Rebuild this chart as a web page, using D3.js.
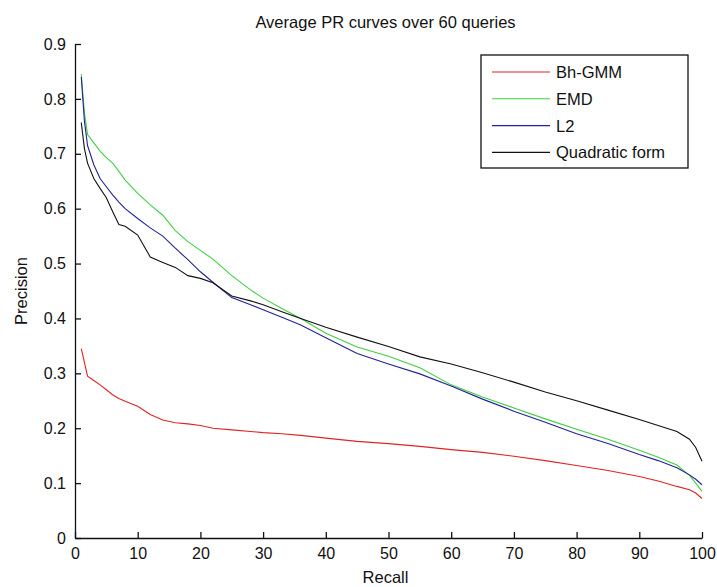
<!DOCTYPE html>
<html>
<head>
<meta charset="utf-8">
<script src="https://cdn.jsdelivr.net/npm/d3@7"></script>
<style>
  html, body { margin: 0; padding: 0; background: #fff; }
  svg { display: block; font-family: "Liberation Sans", Arial, Helvetica, sans-serif; }
</style>
</head>
<body>
<script>
// ---- data ----
const recall = [1, 1.5, 2, 3, 4, 5, 6, 7, 8, 10, 12, 14, 16, 18, 20, 22, 25, 28, 30, 33, 36, 40, 45, 50, 55, 60, 65, 70, 75, 80, 85, 90, 93, 96, 98, 99, 100];
const bhGmm = [0.345, 0.32, 0.295, 0.287, 0.279, 0.27, 0.261, 0.254, 0.249, 0.24, 0.225, 0.215, 0.21, 0.208, 0.205, 0.2, 0.197, 0.194, 0.192, 0.19, 0.187, 0.182, 0.176, 0.172, 0.167, 0.161, 0.156, 0.149, 0.141, 0.132, 0.123, 0.112, 0.104, 0.094, 0.088, 0.082, 0.072];
const emd = [0.845, 0.775, 0.735, 0.72, 0.705, 0.693, 0.683, 0.668, 0.652, 0.628, 0.607, 0.588, 0.56, 0.54, 0.524, 0.508, 0.478, 0.452, 0.437, 0.418, 0.4, 0.373, 0.348, 0.331, 0.31, 0.279, 0.257, 0.237, 0.217, 0.198, 0.18, 0.16, 0.147, 0.133, 0.114, 0.1, 0.085];
const l2 = [0.84, 0.76, 0.715, 0.68, 0.655, 0.64, 0.625, 0.612, 0.6, 0.582, 0.565, 0.55, 0.528, 0.507, 0.485, 0.466, 0.438, 0.425, 0.416, 0.402, 0.388, 0.365, 0.336, 0.317, 0.299, 0.277, 0.253, 0.231, 0.211, 0.19, 0.172, 0.152, 0.141, 0.128, 0.115, 0.107, 0.097];
const quadForm = [0.757, 0.71, 0.683, 0.655, 0.637, 0.62, 0.595, 0.571, 0.568, 0.552, 0.512, 0.502, 0.493, 0.478, 0.473, 0.465, 0.441, 0.432, 0.425, 0.412, 0.4, 0.384, 0.366, 0.349, 0.33, 0.317, 0.301, 0.284, 0.266, 0.25, 0.233, 0.216, 0.205, 0.194, 0.18, 0.165, 0.14];
const seriesNames = ["Bh-GMM", "EMD", "L2", "Quadratic form"];
const seriesColors = ["#e02424", "#3fd03f", "#22229a", "#111111"];
const xTicks = [0, 10, 20, 30, 40, 50, 60, 70, 80, 90, 100];
const yTicks = [0, 0.1, 0.2, 0.3, 0.4, 0.5, 0.6, 0.7, 0.8, 0.9];
const titleText = "Average PR curves over 60 queries";
const xLabel = "Recall";
const yLabel = "Precision";

// ---- layout ----
const W = 717, H = 587;
const m = { left: 75, right: 15, top: 44, bottom: 49 };
const svg = d3.select("body").append("svg").attr("width", W).attr("height", H);
svg.append("rect").attr("width", W).attr("height", H).attr("fill", "#fff");

const x = d3.scaleLinear().domain([0, 100]).range([m.left, W - m.right]);
const y = d3.scaleLinear().domain([0, 0.9]).range([H - m.bottom, m.top]);

const fmtY = d => d === 0 ? "0" : d3.format(".1f")(d);

// x axis (ticks inward)
const xAxis = svg.append("g").attr("transform", `translate(0,${H - m.bottom})`)
  .call(d3.axisBottom(x).tickValues(xTicks).tickSizeInner(-6).tickSizeOuter(0).tickPadding(10).tickFormat(d3.format("d")));
xAxis.selectAll("text").attr("font-size", 16).attr("fill", "#111");

// y axis
const yAxis = svg.append("g").attr("transform", `translate(${m.left},0)`)
  .call(d3.axisLeft(y).tickValues(yTicks).tickSizeInner(-6).tickSizeOuter(0).tickPadding(9).tickFormat(fmtY));
yAxis.selectAll("text").attr("font-size", 16).attr("fill", "#111");

svg.selectAll(".domain, .tick line").attr("stroke", "#111").attr("stroke-width", 1.3);

// lines
const allSeries = [bhGmm, emd, l2, quadForm];
const line = d3.line().x((d, i) => x(recall[i])).y(d => y(d));
allSeries.forEach((vals, k) => {
  svg.append("path").datum(vals)
    .attr("fill", "none")
    .attr("stroke", seriesColors[k])
    .attr("stroke-width", 1.1)
    .attr("d", line);
});

// title & labels
svg.append("text").attr("x", (m.left + W - m.right) / 2 - 3).attr("y", 28)
  .attr("text-anchor", "middle").attr("font-size", 16.5).attr("fill", "#111").text(titleText);
svg.append("text").attr("x", (m.left + W - m.right) / 2 - 3).attr("y", 583)
  .attr("text-anchor", "middle").attr("font-size", 16.5).attr("fill", "#111").text(xLabel);
svg.append("text").attr("transform", `translate(27,${(m.top + H - m.bottom) / 2}) rotate(-90)`)
  .attr("text-anchor", "middle").attr("font-size", 16.5).attr("fill", "#111").text(yLabel);

// legend
const lg = svg.append("g");
lg.append("rect").attr("x", 481).attr("y", 55).attr("width", 207).attr("height", 113)
  .attr("fill", "#fff").attr("stroke", "#111").attr("stroke-width", 1.3);
seriesNames.forEach((name, k) => {
  const yy = 72 + k * 26.8;
  lg.append("line").attr("x1", 492).attr("x2", 550).attr("y1", yy).attr("y2", yy)
    .attr("stroke", seriesColors[k]).attr("stroke-width", 1.1);
  lg.append("text").attr("x", 556).attr("y", yy).attr("dy", "0.36em")
    .attr("font-size", 16.5).attr("fill", "#111").text(name);
});
</script>
</body>
</html>
